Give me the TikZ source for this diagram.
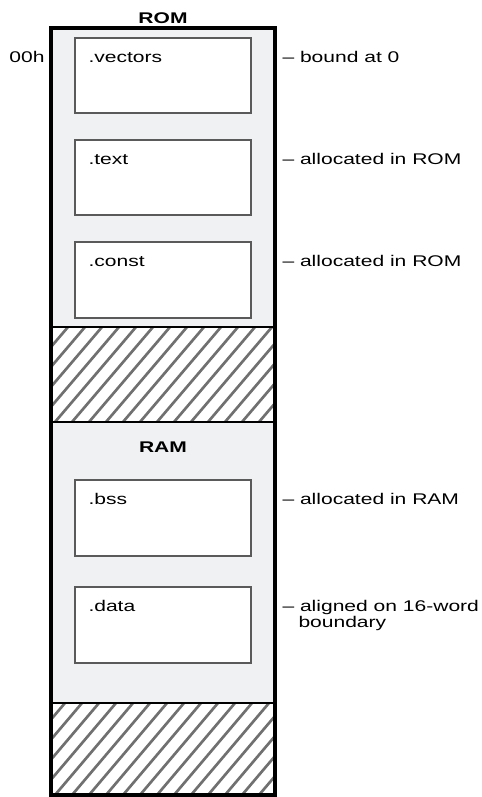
\documentclass[tikz,border=0pt]{standalone}
\usepackage{fontspec}
\setmainfont{Liberation Sans}[FakeStretch=1.36]
\definecolor{memfill}{RGB}{240,241,243}
\definecolor{hatchgray}{RGB}{112,112,112}
\definecolor{boxgray}{RGB}{90,90,90}
\tikzset{every picture/.style={line width=0.75pt}}
\tikzset{
  secbox/.style={draw=boxgray, fill=white, line width=1pt},
  hatchline/.style={draw=hatchgray, line width=2pt},
  lbl/.style={anchor=base west, inner sep=0pt, font=\fontsize{11.6}{12}\selectfont},
  hdr/.style={anchor=base, inner sep=0pt, font=\fontsize{11.6}{12}\selectfont\bfseries}
}

\begin{document}
\begin{tikzpicture}[x=0.75pt,y=0.75pt,yscale=-1,xscale=1]
\useasboundingbox (0,0) rectangle (482,797);

%Shape: Rectangle [memory map background]
\fill[memfill] (51,28) rectangle (275,795);

%Shape: Rectangle [sections]
\draw[secbox] (75,38) rectangle (251,113);
\draw[secbox] (75,140) rectangle (251,215);
\draw[secbox] (75,242) rectangle (251,318);
\draw[secbox] (75,480) rectangle (251,556);
\draw[secbox] (75,587) rectangle (251,663);

%Hatch: unused ROM
\fill[white] (51,327) rectangle (275,422);
\begin{scope}
\clip (51,327) rectangle (275,422);
\foreach \i in {-30,-13,...,290}
  \draw[hatchline] (\i,422) -- (\i+81,327);
\end{scope}
\draw[line width=1pt] (51,327) -- (275,327);
\draw[line width=1pt] (51,422) -- (275,422);

%Hatch: unused RAM
\fill[white] (51,703) rectangle (275,795);
\begin{scope}
\clip (51,703) rectangle (275,795);
\foreach \i in {-30,-13,...,290}
  \draw[hatchline] (\i,795) -- (\i+78,703);
\end{scope}
\draw[line width=1pt] (51,703) -- (275,703);

%Shape: Rectangle [outline]
\draw[line width=2.3pt] (51,28) rectangle (275,795);

% Text Node
\node[hdr] (rom) at (163,23) {ROM};
\node[hdr] (ram) at (163,452) {RAM};
\node[lbl, anchor=base east] (addr) at (45,62) {00h};
% Text Node
\node[lbl] (vectors) at (88,62) {.vectors};
\node[lbl] (text) at (88,164) {.text};
\node[lbl] (const) at (88,266) {.const};
\node[lbl] (bss) at (88,504) {.bss};
\node[lbl] (data) at (88,611) {.data};
% Text Node
\node[lbl] (bound) at (282,62) {– bound at 0};
\node[lbl] (textrom) at (282,164) {– allocated in ROM};
\node[lbl] (constrom) at (282,266) {– allocated in ROM};
\node[lbl] (bssram) at (282,504) {– allocated in RAM};
\node[lbl] (align) at (282,611) {– aligned on 16-word};
\node[lbl] (alignb) at (298,627) {boundary};

\end{tikzpicture}
\end{document}
